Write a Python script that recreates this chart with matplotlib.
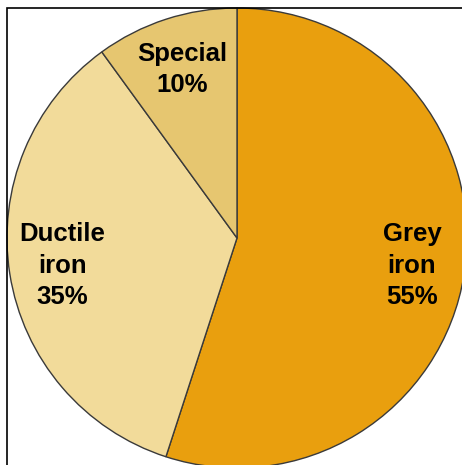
import matplotlib.pyplot as plt
from matplotlib.patches import Rectangle

# datos del grafico
names  = ['Grey\niron', 'Ductile\niron', 'Special']
values = [55, 35, 10]
colors = ['#E99F0E', '#F2DB9A', '#E6C670']

labels = ['%s\n%d%%' % (n, v) for n, v in zip(names, values)]

fig = plt.figure(figsize=[4.62, 4.65], dpi=100)
ax = fig.add_axes([0, 0, 1, 1])

wedges, texts = ax.pie(values, labels=labels, colors=colors, startangle=90,
                       counterclock=False, center=(237, 227), radius=230,
                       labeldistance=0.77, frame=True,
                       wedgeprops=dict(edgecolor='#3a3a3a', linewidth=1.0),
                       textprops=dict(fontsize=18.5, fontweight='bold',
                                      family='Liberation Sans', color='black',
                                      linespacing=1.4))
for t in texts:
    t.set_horizontalalignment('center')
    t.set_verticalalignment('center')

ax.set_xlim(0, 462)
ax.set_ylim(0, 465)
ax.set_aspect('auto')
ax.axis('off')

# marco
ax.add_patch(Rectangle((7, -20), 480, 477, fill=False, edgecolor='black',
                       linewidth=1.2, zorder=5))

fig.savefig('out.png', dpi=100)
